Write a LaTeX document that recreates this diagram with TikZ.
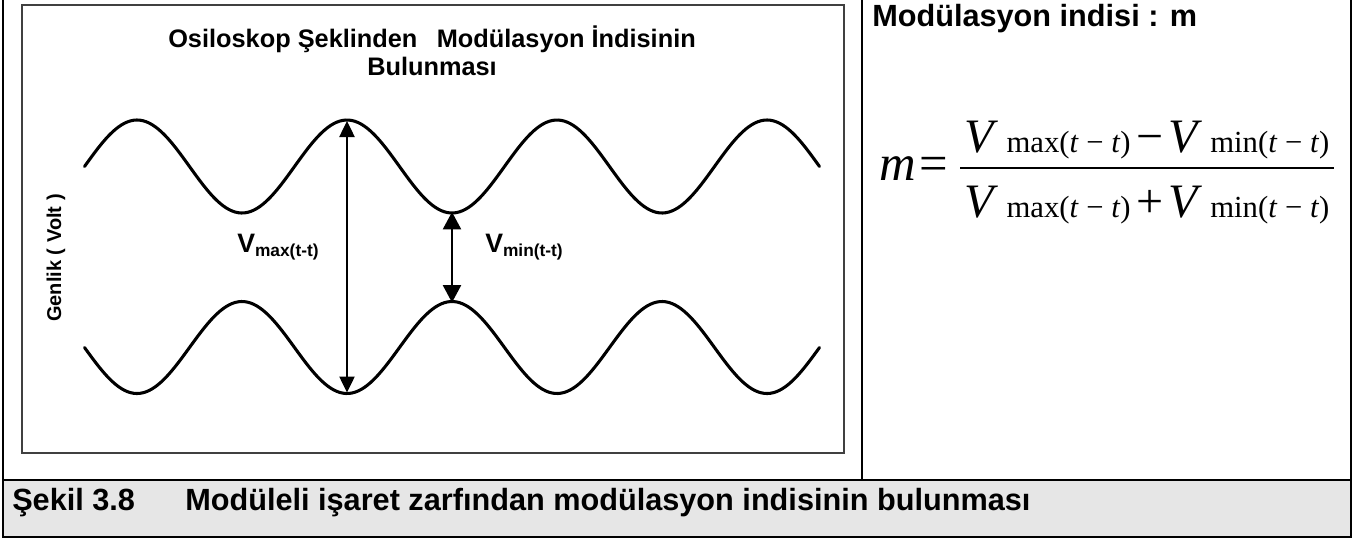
\documentclass[tikz,border=0pt]{standalone}
\usepackage{fontspec}
\setmainfont{Liberation Sans}
\newfontfamily\tnr{Liberation Serif}
\usetikzlibrary{arrows.meta}
\definecolor{capgray}{HTML}{E6E6E6}
\definecolor{boxgray}{HTML}{404040}
\begin{document}
\begin{tikzpicture}[x=0.75pt,y=-0.75pt,
  wave/.style={line width=2.3pt, line cap=round},
  frame/.style={line width=1.5pt},
  lbl/.style={inner sep=0pt, anchor=base west},
  ctr/.style={inner sep=0pt, anchor=base},
  bigtext/.style={font=\fontsize{23}{23}\selectfont\bfseries},
  thinarrow/.style={line width=1pt, {Triangle[length=12pt,width=11.5pt]}-{Triangle[length=12pt,width=11.5pt]}},
  thickarrow/.style={line width=1.6pt, {Triangle[length=13pt,width=13.5pt]}-{Triangle[length=13pt,width=13.5pt]}},
  mathbig/.style={font=\tnr\fontsize{36}{36}\selectfont}]
\useasboundingbox (0,0) rectangle (1365,540);
% frames
\fill[capgray] (3,480) rectangle (1351,537);
\draw[frame] (3,-5) -- (3,537) -- (1351,537) -- (1351,-5);
\draw[frame] (3,480) -- (1351,480);
\draw[frame] (862,-5) -- (862,480);
\draw[boxgray, line width=0.9pt] (22,5) rectangle (844,453);
% title
\node[ctr, font=\fontsize{19}{19}\selectfont\bfseries] (title1) at (432,47) {Osiloskop Şeklinden\hspace{14.5pt}Modülasyon İndisinin};
\node[ctr, font=\fontsize{19}{19}\selectfont\bfseries] (title2) at (432,75) {Bulunması};
% waves
\draw[wave] plot[domain=84.5:819.5, samples=240, smooth] (\x, {166.5-46.5*sin(1.7142857*(\x-84.5))});
\draw[wave] plot[domain=84.5:819.5, samples=240, smooth] (\x, {347.5+46*sin(1.7142857*(\x-84.5))});
% arrows
\coordinate (maxtop) at (347,121);
\coordinate (maxbot) at (347,392.5);
\coordinate (mintop) at (452,212);
\coordinate (minbot) at (452,302.5);
\draw[thinarrow] (maxtop) -- (maxbot);
\draw[thickarrow] (mintop) -- (minbot);
% labels
\node[lbl] (vmax) at (237,252) {\fontsize{20}{20}\selectfont\bfseries V\raisebox{-3.5pt}{\fontsize{13}{13}\selectfont max(t-t)}};
\node[lbl] (vmin) at (485,252) {\fontsize{20}{20}\selectfont\bfseries V\raisebox{-3.5pt}{\fontsize{13}{13}\selectfont min(t-t)}};
\node[rotate=90, font=\fontsize{15}{15}\selectfont\bfseries] (genlik) at (56,258) {Genlik ( Volt )};
% right panel
\node[lbl, bigtext] (rtitle) at (872,26) {Modülasyon indisi : m};
\node[lbl, font=\tnr\fontsize{38}{38}\selectfont] (meq) at (879,180) {\textit{m}\hspace{3pt}=};
\node[ctr, mathbig] (num) at (1147,152) {\textit{V}\hspace{6pt}{\fontsize{23}{23}\selectfont max(\textit{t} − \textit{t})}\hspace{4pt}−\hspace{4pt}\textit{V}\hspace{6pt}{\fontsize{23}{23}\selectfont min(\textit{t} − \textit{t})}};
\node[ctr, mathbig] (den) at (1147,217) {\textit{V}\hspace{6pt}{\fontsize{23}{23}\selectfont max(\textit{t} − \textit{t})}\hspace{4pt}+\hspace{4pt}\textit{V}\hspace{6pt}{\fontsize{23}{23}\selectfont min(\textit{t} − \textit{t})}};
\draw[line width=1.1pt] (960,168) -- (1334,168);
% caption
\node[lbl, bigtext] (cap1) at (12,510) {Şekil 3.8};
\node[lbl, bigtext] (cap2) at (185,510) {Modüleli işaret zarfından modülasyon indisinin bulunması};
\end{tikzpicture}
\end{document}
